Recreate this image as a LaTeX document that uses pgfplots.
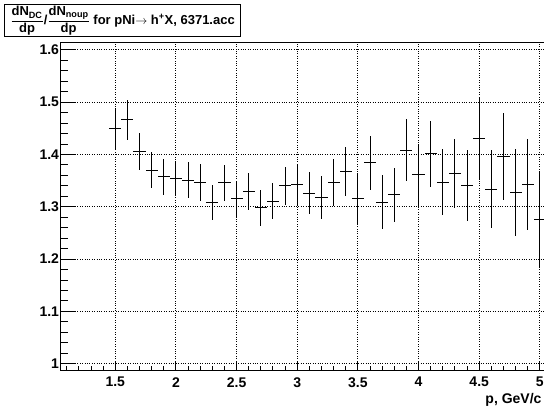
\documentclass[border=0pt]{standalone}
\usepackage{amsmath}
\usepackage{fontspec}
\setmainfont{Liberation Sans}
\usepackage{pgfplots}
\usepackage{pgfplotstable}
\pgfplotsset{compat=1.18}
\pgfplotstableread{
x y ex ey
1.5 1.449 0.05 0.040
1.6 1.466 0.05 0.038
1.7 1.406 0.05 0.036
1.8 1.370 0.05 0.034
1.9 1.357 0.05 0.034
2.0 1.355 0.05 0.033
2.1 1.351 0.05 0.034
2.2 1.347 0.05 0.035
2.3 1.308 0.05 0.034
2.4 1.346 0.05 0.034
2.5 1.315 0.05 0.035
2.6 1.329 0.05 0.035
2.7 1.298 0.05 0.035
2.8 1.311 0.05 0.035
2.9 1.340 0.05 0.037
3.0 1.343 0.05 0.039
3.1 1.326 0.05 0.040
3.2 1.318 0.05 0.041
3.3 1.347 0.05 0.045
3.4 1.367 0.05 0.047
3.5 1.315 0.05 0.047
3.6 1.384 0.05 0.051
3.7 1.309 0.05 0.051
3.8 1.323 0.05 0.052
3.9 1.408 0.05 0.059
4.0 1.362 0.05 0.059
4.1 1.401 0.05 0.064
4.2 1.347 0.05 0.063
4.3 1.364 0.05 0.066
4.4 1.340 0.05 0.068
4.5 1.431 0.05 0.079
4.6 1.334 0.05 0.075
4.7 1.396 0.05 0.083
4.8 1.327 0.05 0.083
4.9 1.343 0.05 0.087
5.0 1.276 0.05 0.093
}\ratio
\begin{document}
\begin{tikzpicture}[x=1pt,y=1pt]
\begin{axis}[
  at={(60.7pt,41.3pt)}, anchor=south west,
  scale only axis, width=491.3pt, height=328pt,
  xmin=1.05, xmax=5.1, ymin=0.9866, ymax=1.6138,
  axis line style={line width=1.5pt},
  xtick={1.5,2,2.5,3,3.5,4,4.5,5},
  minor xtick={1.1,1.2,1.3,1.4,1.6,1.7,1.8,1.9,2.1,2.2,2.3,2.4,2.6,2.7,2.8,2.9,3.1,3.2,3.3,3.4,3.6,3.7,3.8,3.9,4.1,4.2,4.3,4.4,4.6,4.7,4.8,4.9,5.1},
  ytick={1,1.1,1.2,1.3,1.4,1.5,1.6},
  minor ytick={1.02,1.04,1.06,1.08,1.12,1.14,1.16,1.18,1.22,1.24,1.26,1.28,1.32,1.34,1.36,1.38,1.42,1.44,1.46,1.48,1.52,1.54,1.56,1.58},
  xtick pos=left, ytick pos=left,
  tick align=inside,
  major tick length=14pt, minor tick length=7pt,
  x tick style={/pgfplots/major tick length=9pt,/pgfplots/minor tick length=4.5pt},
  tick style={black, line width=1pt},
  xmajorgrids, ymajorgrids,
  grid style={dotted, black, line width=0.9pt},
  /pgf/number format/assume math mode=true,
  xticklabel={\bfseries\pgfmathprintnumber[assume math mode=true]{\tick}},
  yticklabel={\bfseries\pgfmathprintnumber[assume math mode=true]{\tick}},
  tick label style={font=\fontsize{14}{16}\selectfont\bfseries},
  xticklabel style={yshift=-3pt},
  yticklabel style={inner sep=1.5pt},
  clip=false,
]
\addplot[draw=none, mark=none,
  error bars/.cd, x dir=both, x explicit, y dir=both, y explicit,
  error mark=none, error bar style={draw=black, line width=1pt}]
  table[x=x, y=y, x error=ex, y error=ey] {\ratio};
\end{axis}
\node[anchor=base east, font=\fontsize{14}{16}\selectfont\bfseries, inner sep=0pt] at (541.7,8.3) {p, GeV/c};
\node[anchor=north west, draw=black, line width=1.2pt, fill=white, minimum width=236pt, minimum height=32pt, inner sep=1pt, font=\fontsize{13}{15}\selectfont\bfseries] at (4,408)
  {$\dfrac{\text{dN}_{\text{DC}}}{\text{dp}}$/$\dfrac{\text{dN}_{\text{noup}}}{\text{dp}}$ for pNi$\rightarrow$ h\textsuperscript{+}X, 6371.acc};
\pgfresetboundingbox
\path[use as bounding box] (0,0) rectangle (544,412);
\end{tikzpicture}
\end{document}
